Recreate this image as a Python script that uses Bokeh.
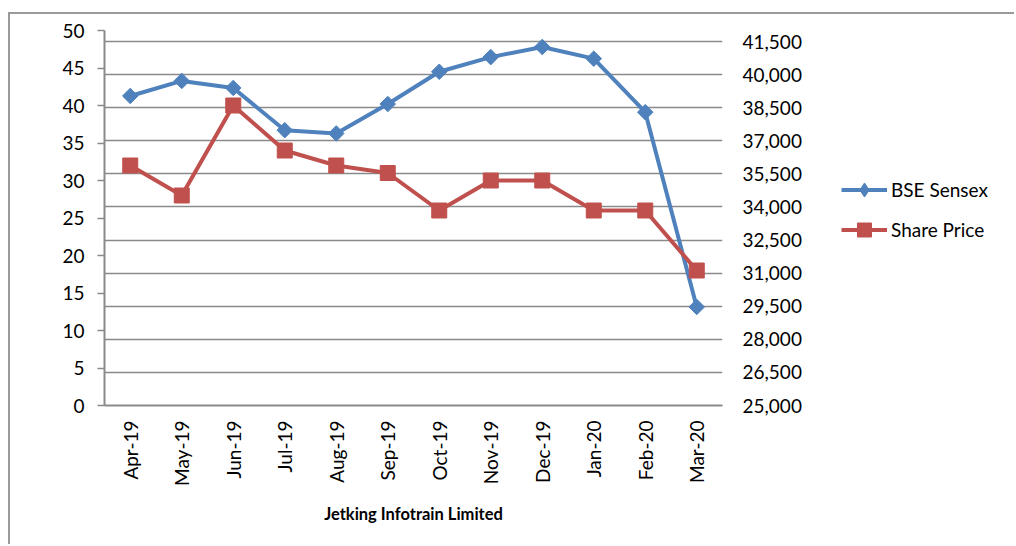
import math
from bokeh.plotting import figure
from bokeh.layouts import row
from bokeh.models import (Range1d, LinearAxis, FixedTicker, Legend, LegendItem,
                          Grid, FactorRange, NumeralTickFormatter)
from bokeh.embed import file_html
from bokeh.resources import INLINE

months = ["Apr-19", "May-19", "Jun-19", "Jul-19", "Aug-19", "Sep-19",
          "Oct-19", "Nov-19", "Dec-19", "Jan-20", "Feb-20", "Mar-20"]
sensex = [39032, 39714, 39395, 37481, 37333, 38667,
          40129, 40794, 41254, 40723, 38297, 29468]
share_price = [32, 28, 40, 34, 32, 31, 26, 30, 30, 26, 26, 18]
left_ticks = list(range(0, 51, 5))
right_ticks = list(range(25000, 41501, 1500))

FONT = "Lato"
GRAY = "#8a8a8a"
BLUE = "#4F81BD"
RED = "#C0504D"
FS = "19px"
BORDER = "2px solid #9a9a9a"

p = figure(width=830, height=532, x_range=FactorRange(*months, range_padding=0),
           y_range=Range1d(0, 50), output_backend="svg", toolbar_location=None,
           min_border_left=94, min_border_top=16, min_border_right=118,
           min_border_bottom=141, margin=(12, 0, 0, 8))
p.styles = {"border-top": BORDER, "border-left": BORDER}
p.outline_line_color = None
p.extra_y_ranges = {"sensex": Range1d(25000, 42000)}

p.xgrid.visible = False
p.ygrid.visible = False
grid = Grid(dimension=1, ticker=FixedTicker(ticks=right_ticks), y_range_name="sensex",
            grid_line_color=GRAY, grid_line_width=1.5)
p.add_layout(grid)

# left axis
ya = p.yaxis[0]
ya.ticker = FixedTicker(ticks=left_ticks)
ya.axis_line_color = GRAY
ya.axis_line_width = 2
ya.major_tick_line_color = GRAY
ya.major_tick_line_width = 1.5
ya.major_tick_out = 7
ya.major_tick_in = 0
ya.minor_tick_line_color = None
ya.major_label_standoff = 13
ya.major_label_text_font = FONT
ya.major_label_text_font_size = FS
ya.major_label_text_color = "#000000"

# right axis
ra = LinearAxis(y_range_name="sensex", ticker=FixedTicker(ticks=right_ticks),
                formatter=NumeralTickFormatter(format="0,0"))
ra.axis_line_color = None
ra.major_tick_line_color = None
ra.minor_tick_line_color = None
ra.major_tick_out = 0
ra.major_tick_in = 0
ra.major_label_standoff = 20
ra.major_label_text_font = FONT
ra.major_label_text_font_size = FS
ra.major_label_text_color = "#000000"
p.add_layout(ra, "right")

# bottom axis
xa = p.xaxis[0]
xa.axis_line_color = GRAY
xa.axis_line_width = 2
xa.major_tick_line_color = None
xa.minor_tick_line_color = None
xa.major_tick_out = 0
xa.major_label_orientation = math.pi / 2
xa.major_label_standoff = 15
xa.major_label_text_font = FONT
xa.major_label_text_font_size = FS
xa.major_label_text_color = "#000000"
xa.axis_label = "Jetking Infotrain Limited"
xa.axis_label_text_font = FONT
xa.axis_label_text_font_style = "bold"
xa.axis_label_text_font_size = "16.5px"
xa.axis_label_text_color = "#000000"
xa.axis_label_standoff = 15

p.line(months, sensex, y_range_name="sensex", line_color=BLUE, line_width=4)
p.scatter(months, sensex, y_range_name="sensex", marker="square", angle=math.pi / 4,
          size=11, fill_color=BLUE, line_color=BLUE)
p.line(months, share_price, line_color=RED, line_width=4)
p.scatter(months, share_price, marker="square", size=15, fill_color=RED, line_color=RED)

# legend panel (series drawn outside its visible range, only the legend shows)
q = figure(width=176, height=532, x_range=FactorRange(*months, range_padding=0),
           y_range=Range1d(-2, -1), output_backend="svg", toolbar_location=None,
           x_axis_location=None, y_axis_location=None,
           min_border_left=0, min_border_right=0, min_border_top=0, min_border_bottom=0,
           margin=(12, 0, 0, 0))
q.styles = {"border-top": BORDER}
q.outline_line_color = None
q.xgrid.visible = False
q.ygrid.visible = False
l1 = q.line(months, sensex, line_color=BLUE, line_width=4)
m1 = q.scatter(months, sensex, marker="diamond", size=11,
               fill_color=BLUE, line_color=BLUE)
l2 = q.line(months, share_price, line_color=RED, line_width=4)
m2 = q.scatter(months, share_price, marker="square", size=15, fill_color=RED,
               line_color=RED)

legend = Legend(items=[LegendItem(label="BSE Sensex", renderers=[l1, m1]),
                       LegendItem(label="Share Price", renderers=[l2, m2])],
                location=(3, 158), margin=0, padding=0, border_line_color=None,
                background_fill_alpha=0, glyph_width=46, glyph_height=35,
                label_height=35, spacing=5, label_standoff=4,
                label_text_font=FONT, label_text_font_size=FS,
                label_text_color="#000000")
q.add_layout(legend, "center")

layout = row(p, q, spacing=0)
open("out.html", "w").write(file_html(layout, INLINE))
